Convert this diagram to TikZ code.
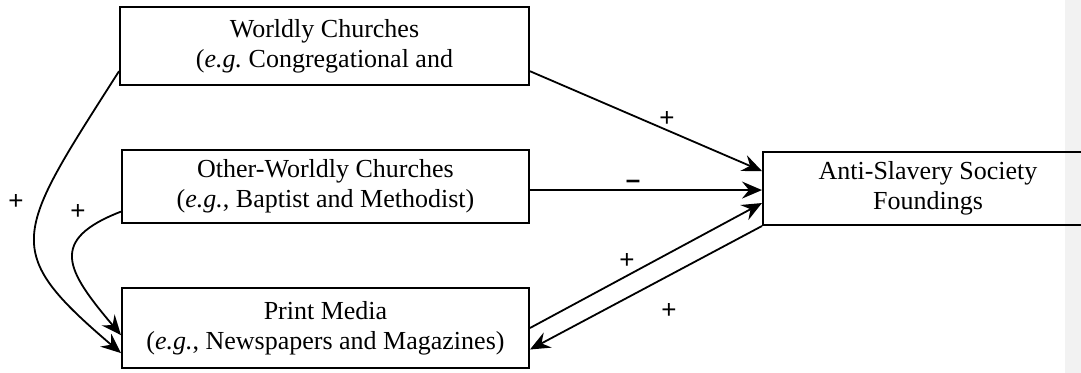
\documentclass[tikz,border=0pt]{standalone}
\usepackage{fontspec}
\setmainfont{Liberation Serif}
\newfontfamily\signfont{Liberation Sans}
\usepackage{xcolor}
\usepackage{tikz}
\usetikzlibrary{arrows.meta}
\definecolor{ink}{HTML}{000000}
\definecolor{strip}{HTML}{F2F2F2}
\tikzset{
  box/.style={draw=ink, line width=1pt, align=center, inner sep=0pt, font=\fontsize{13}{15}\selectfont},
  link/.style={draw=ink, line width=0.9pt, -{Stealth[length=10pt,width=8.5pt,inset=3.5pt]}},
  sign/.style={text=ink, font=\signfont\fontsize{13}{15}\selectfont, inner sep=0pt}
}

\begin{document}
\begin{tikzpicture}[x=0.5pt,y=-0.5pt]
\useasboundingbox (0,0) rectangle (1081,373);
\clip (0,0) rectangle (1081,373);
\fill[strip] (1065,0) rectangle (1081,373);
% boxes
\node[box, minimum width=204.5pt, minimum height=39pt] (worldly) at (324.5,46) {Worldly Churches\\(\textit{e.g.}\ Congregational and};
\node[box, minimum width=203.5pt, minimum height=36.5pt] (other) at (325.5,186.5) {Other-Worldly Churches\\(\textit{e.g.}, Baptist and Methodist)};
\node[box, minimum width=203.5pt, minimum height=40pt] (print) at (325.5,328) {Print Media\\(\textit{e.g.}, Newspapers and Magazines)};
\node[box, minimum width=165pt, minimum height=36.5pt] (anti) at (928,188.5) {Anti-Slavery Society\\Foundings};
% links
\draw[link] (worldly.-7.8) -- (anti.174);
\draw[link] (other.-1.5) -- (other.-1.5 -| anti.west);
\draw[link] (print.-0.8) -- (anti.185.7);
\draw[link] (anti.south west) -- (print.-6.7);
\draw[link] (worldly.187.2) .. controls (14,236) and (0,250) .. (print.187);
\draw[link] (other.187.1) .. controls (48,240) and (66,270) .. (print.182);
% signs
\node[sign] (wa) at (667,119) {+};
\node[sign] (oa) at (633,184) {\textbf{–}};
\node[sign] (pa) at (627,261) {+};
\node[sign] (ap) at (669,311) {+};
\node[sign] (wp) at (16,202) {+};
\node[sign] (op) at (78,212) {+};
\end{tikzpicture}
\end{document}
